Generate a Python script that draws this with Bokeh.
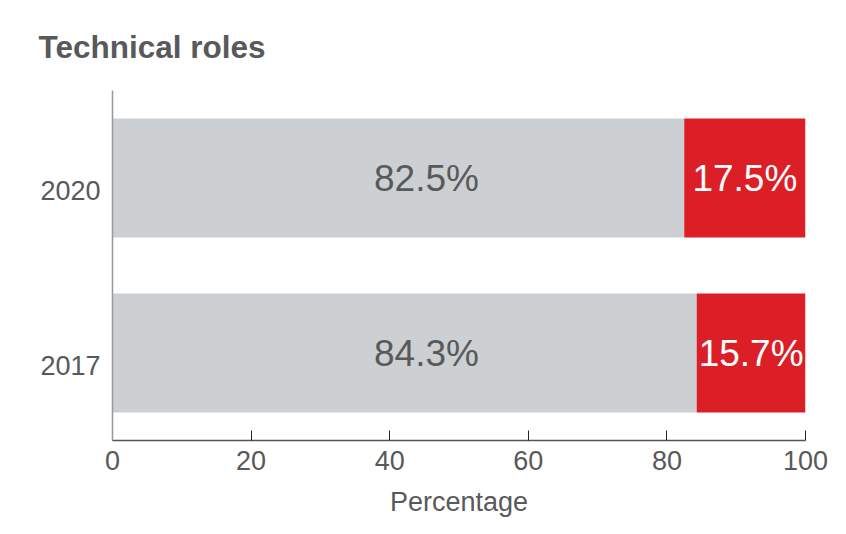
from bokeh.plotting import figure
from bokeh.models import (ColumnDataSource, Range1d, FixedTicker, Title, LinearAxis)
from bokeh.core.properties import value
from bokeh.embed import file_html
from bokeh.resources import INLINE

years = ["2017", "2020"]
other = [84.3, 82.5]
technical = [15.7, 17.5]
other_labels = ["84.3%", "82.5%"]
technical_labels = ["15.7%", "17.5%"]
x_ticks = [0, 20, 40, 60, 80, 100]

FONT = "Liberation Sans"
TEXT = "#58595b"
GRAY = "#cdd0d3"
RED = "#dc1f26"

n = len(years)
centres = [i + 0.5 for i in range(n)]   # one slot per category, bottom to top

src = ColumnDataSource(dict(
    year=years,
    pos=centres,
    other=other,
    tech=technical,
    total=[o + t for o, t in zip(other, technical)],
    other_lbl=other_labels,
    tech_lbl=technical_labels,
    tech_mid=[o + t / 2 for o, t in zip(other, technical)],
    other_mid=[45.3 for _ in other],
))

p = figure(
    y_range=Range1d(0, n),
    x_range=Range1d(0, 100),
    y_axis_location=None,
    frame_width=693, frame_height=350,
    min_border_left=112, min_border_right=41,
    min_border_top=90, min_border_bottom=94,
    output_backend="svg", toolbar_location=None,
    background_fill_color="white", border_fill_color="white",
)
p.outline_line_color = None
p.grid.grid_line_color = None

p.hbar(y="pos", left=0, right="other", height=0.68,
       source=src, fill_color=GRAY, line_color=None)
p.hbar(y="pos", left="other", right="total", height=0.68,
       source=src, fill_color=RED, line_color=None)

p.text(x="other_mid", y="pos", text="other_lbl", source=src,
       text_font=value(FONT), text_font_size="37px", text_color=TEXT,
       text_align="center", text_baseline="middle")
p.text(x="tech_mid", y="pos", text="tech_lbl", source=src,
       text_font=value(FONT), text_font_size="37px", text_color="white",
       text_align="center", text_baseline="middle")

# category axis whose labels sit a little below the bar centres, as in the source
shift = 12.5 / 175.0
p.extra_y_ranges = {"lbl": Range1d(start=shift, end=n + shift)}
ya = LinearAxis(y_range_name="lbl", ticker=FixedTicker(ticks=centres),
                major_label_overrides={c: yr for c, yr in zip(centres, years)})
ya.major_label_text_font = FONT
ya.major_label_text_font_size = "27px"
ya.major_label_text_color = TEXT
ya.major_label_standoff = 12
ya.axis_line_color = "#999999"
ya.axis_line_width = 1.5
ya.major_tick_line_color = None
ya.major_tick_in = 0
ya.major_tick_out = 0
ya.minor_tick_line_color = None
p.add_layout(ya, "left")

p.title = Title(text="Technical roles", text_font=FONT, text_font_size="31.5px",
                text_font_style="bold", text_color=TEXT, offset=-74, standoff=52)

xa = p.xaxis[0]
xa.ticker = FixedTicker(ticks=x_ticks)
xa.axis_label = "Percentage"
xa.axis_label_text_font = FONT
xa.axis_label_text_font_size = "27px"
xa.axis_label_text_font_style = "normal"
xa.axis_label_text_color = TEXT
xa.axis_label_standoff = 14
xa.major_label_text_font = FONT
xa.major_label_text_font_size = "27px"
xa.major_label_text_color = TEXT
xa.major_label_standoff = 10
xa.axis_line_color = "#555555"
xa.axis_line_width = 1.5
xa.major_tick_in = 10
xa.major_tick_out = 0
xa.major_tick_line_color = "#222222"
xa.minor_tick_line_color = None

open("out.html", "w").write(file_html(p, INLINE))
